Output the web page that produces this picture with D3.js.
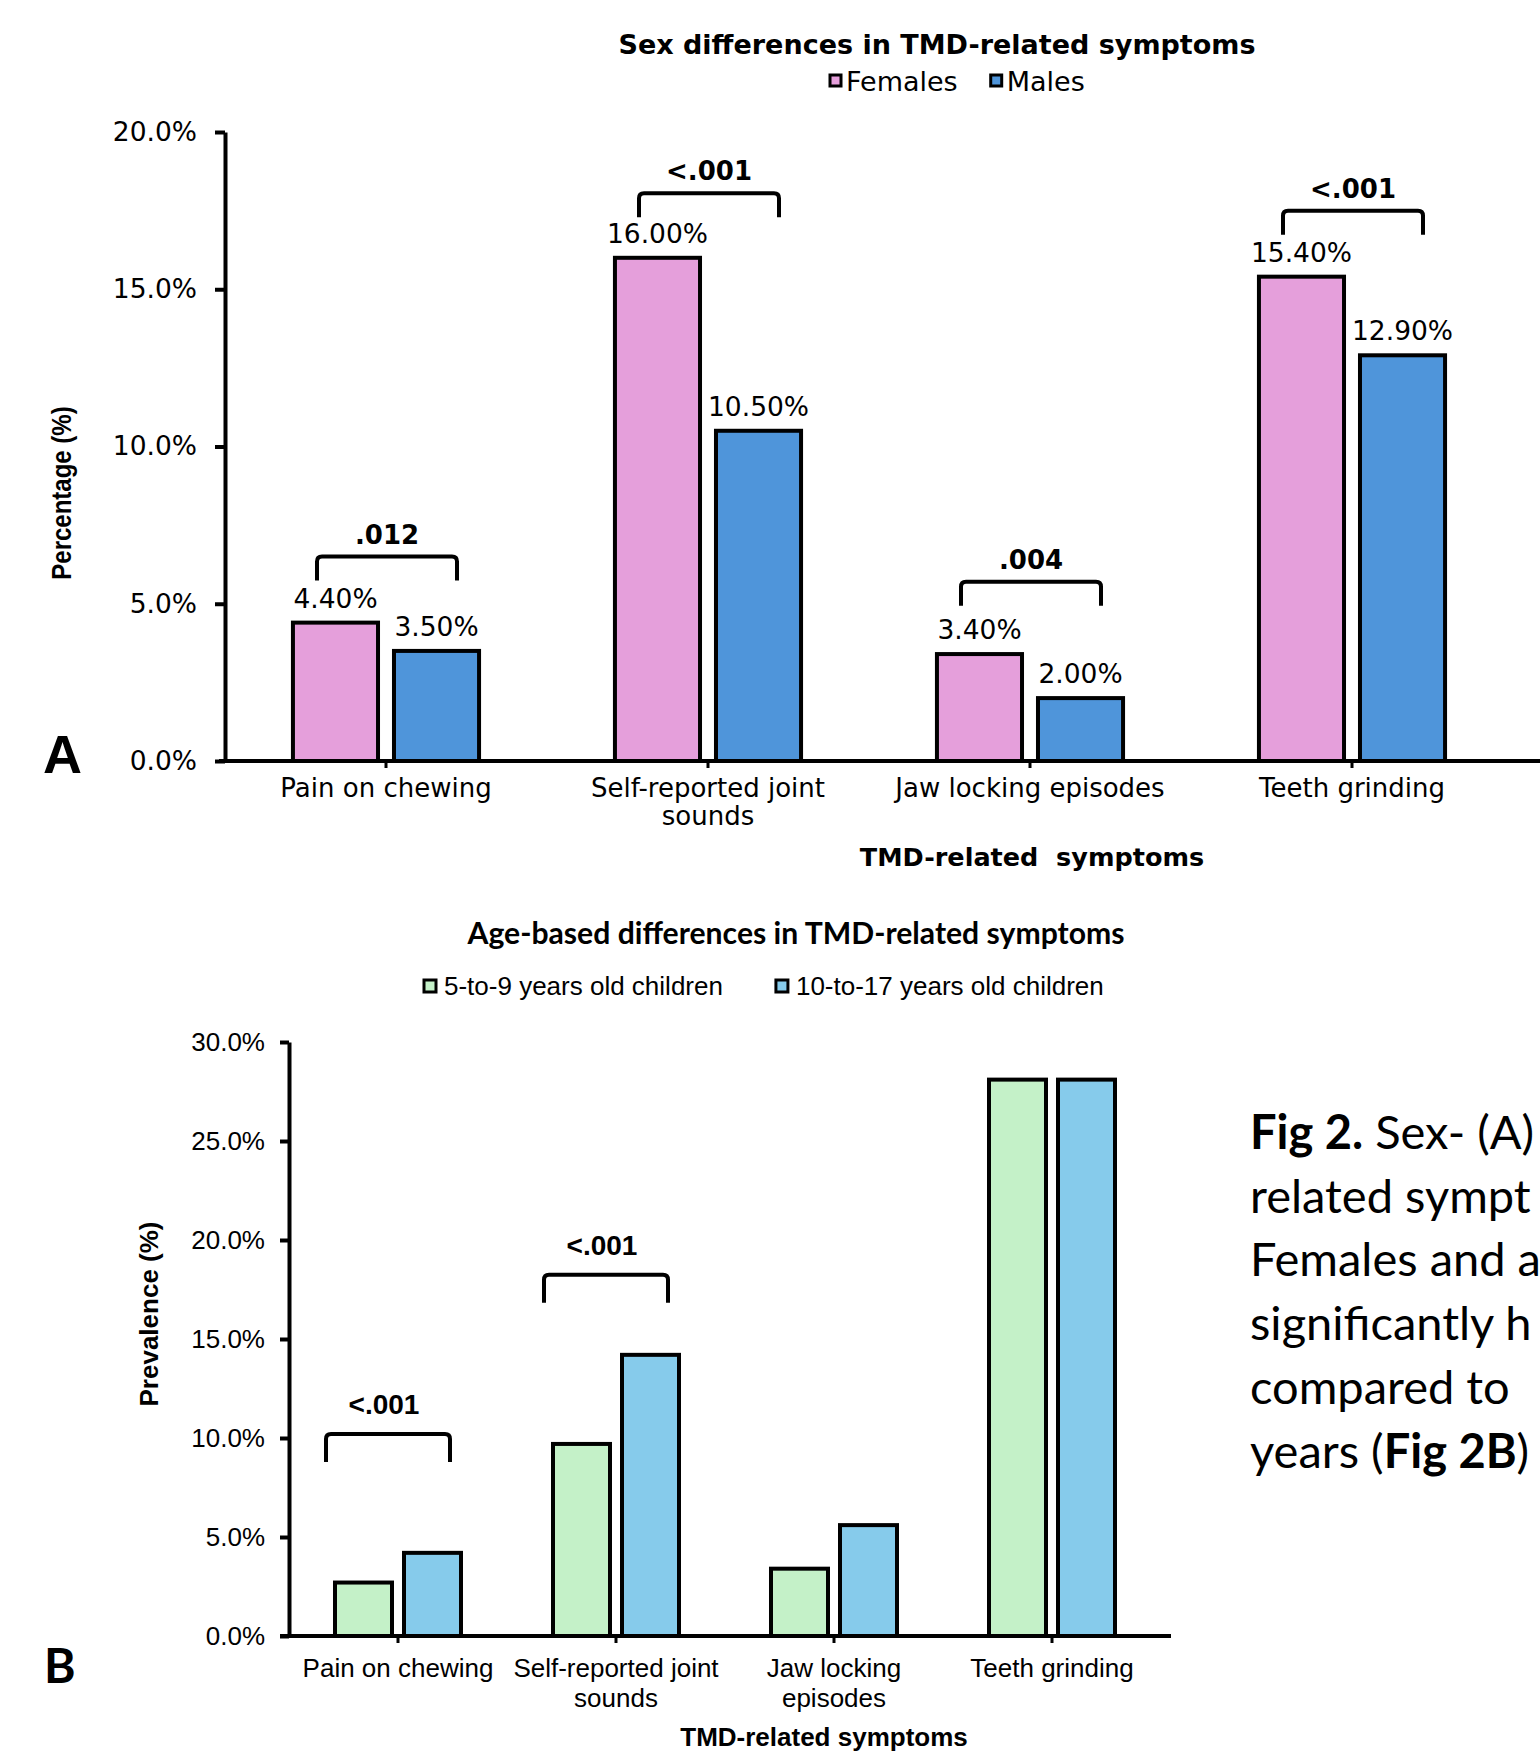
<!DOCTYPE html>
<html>
<head>
<meta charset="utf-8">
<script src="https://cdn.jsdelivr.net/npm/d3@7"></script>
<style>
  body { margin: 0; background: #fff; }
  svg { display: block; }
  text { white-space: pre; }
</style>
</head>
<body>
<svg id="fig" width="1540" height="1758"></svg>
<script>
// ---- data ----
const symptoms = ['Pain on chewing', 'Self-reported joint sounds', 'Jaw locking episodes', 'Teeth grinding'];
const tickLinesA = [['Pain on chewing'], ['Self-reported joint', 'sounds'], ['Jaw locking episodes'], ['Teeth grinding']];
const tickLinesB = [['Pain on chewing'], ['Self-reported joint', 'sounds'], ['Jaw locking', 'episodes'], ['Teeth grinding']];

const sexGroups = ['Females', 'Males'];
const femalesPct = [4.40, 16.00, 3.40, 15.40];
const malesPct = [3.50, 10.50, 2.00, 12.90];
const pValuesA = ['.012', '<.001', '.004', '<.001'];
const bracketTopA = [6.5, 18.05, 5.7, 17.5];   // in % units
const yTicksA = [0, 5, 10, 15, 20];

const ageGroups = ['5-to-9 years old children', '10-to-17 years old children'];
const age5to9Pct = [2.7, 9.7, 3.4, 28.1];
const age10to17Pct = [4.2, 14.2, 5.6, 28.1];
const pValuesB = ['<.001', '<.001', null, null];
const bracketTopB = [10.2, 18.25, null, null];
const yTicksB = [0, 5, 10, 15, 20, 25, 30];

const captionLines = [
  [['Fig 2.', true], [' Sex- (A)', false]],
  [['related sympt', false]],
  [['Females and a', false]],
  [['significantly h', false]],
  [['compared to', false]],
  [['years (', false], ['Fig 2B', true], [')', false]]
];

const W = 1540;
const svg = d3.select('#fig');
svg.append('rect').attr('width', W).attr('height', 1758).attr('fill', '#fff');

function bracket(x1, x2, yTop, leg) {
  const r = 5;
  return 'M' + x1 + ',' + (yTop + leg) + 'L' + x1 + ',' + (yTop + r) +
    'Q' + x1 + ',' + yTop + ' ' + (x1 + r) + ',' + yTop +
    'L' + (x2 - r) + ',' + yTop + 'Q' + x2 + ',' + yTop + ' ' + x2 + ',' + (yTop + r) +
    'L' + x2 + ',' + (yTop + leg);
}

// ================= Panel A =================
(function () {
  const font = 'DejaVu Sans';
  const g = svg.append('g');
  const y = d3.scaleLinear().domain([0, 20]).range([761, 132]);
  const x0 = d3.scaleBand().domain(symptoms).range([225, 1513]).paddingInner(0.422).paddingOuter(0.211);
  const x1 = d3.scaleBand().domain(sexGroups).range([0, x0.bandwidth()]).paddingInner(0.158);
  const color = d3.scaleOrdinal().domain(sexGroups).range(['#e59fdb', '#4f95da']);

  g.append('text').attr('x', 937).attr('y', 54).attr('text-anchor', 'middle')
    .attr('font-family', font).attr('font-weight', 'bold').attr('font-size', 27)
    .text('Sex differences in TMD-related symptoms');

  // legend
  let lx = 830;
  sexGroups.forEach(function (s) {
    g.append('rect').attr('x', lx).attr('y', 75).attr('width', 11).attr('height', 11)
      .attr('fill', color(s)).attr('stroke', '#000').attr('stroke-width', 3);
    const t = g.append('text').attr('x', lx + 16).attr('y', 91)
      .attr('font-family', font).attr('font-size', 27).text(s);
    lx += 16 + t.node().getComputedTextLength() + 33;
  });

  const yAxis = g.append('g').attr('transform', 'translate(225,0)')
    .call(d3.axisLeft(y).tickValues(yTicksA).tickSize(10).tickSizeOuter(0).tickPadding(18)
      .tickFormat(d => d.toFixed(1) + '%'));
  yAxis.select('.domain').attr('stroke-width', 4);
  yAxis.selectAll('.tick line').attr('stroke-width', 4);
  yAxis.selectAll('.tick text').attr('font-family', font).attr('font-size', 26.5).attr('fill', '#000');

  const rows = symptoms.map((c, i) => ({ cat: c, vals: [femalesPct[i], malesPct[i]] }));
  const grp = g.selectAll('.cat').data(rows).enter().append('g')
    .attr('transform', d => 'translate(' + x0(d.cat) + ',0)');
  grp.selectAll('rect').data(d => d.vals.map((v, j) => ({ key: sexGroups[j], v: v }))).enter()
    .append('rect')
    .attr('x', d => x1(d.key)).attr('y', d => y(d.v))
    .attr('width', x1.bandwidth()).attr('height', d => y(0) - y(d.v))
    .attr('fill', d => color(d.key)).attr('stroke', '#000').attr('stroke-width', 4);
  grp.selectAll('.val').data(d => d.vals.map((v, j) => ({ key: sexGroups[j], v: v }))).enter()
    .append('text')
    .attr('x', d => x1(d.key) + x1.bandwidth() / 2).attr('y', d => y(d.v) - 15)
    .attr('text-anchor', 'middle').attr('font-family', font).attr('font-size', 26.5)
    .text(d => d.v.toFixed(2) + '%');

  // x axis
  g.append('line').attr('x1', 219).attr('x2', W).attr('y1', y(0)).attr('y2', y(0))
    .attr('stroke', '#000').attr('stroke-width', 4);
  symptoms.forEach(function (c, i) {
    const cx = x0(c) + x0.bandwidth() / 2;
    g.append('line').attr('x1', cx).attr('x2', cx).attr('y1', y(0)).attr('y2', y(0) + 7)
      .attr('stroke', '#000').attr('stroke-width', 3);
    const t = g.append('text').attr('text-anchor', 'middle').attr('font-family', font).attr('font-size', 26);
    tickLinesA[i].forEach(function (ln, k) {
      t.append('tspan').attr('x', cx).attr('y', 797 + k * 28).text(ln);
    });
    // significance bracket
    const bx = cx + 1, half = 70, top = y(bracketTopA[i]);
    g.append('path').attr('d', bracket(bx - half, bx + half, top, 24))
      .attr('fill', 'none').attr('stroke', '#000').attr('stroke-width', 4);
    g.append('text').attr('x', bx).attr('y', top - 13).attr('text-anchor', 'middle')
      .attr('font-family', font).attr('font-weight', 'bold').attr('font-size', 26)
      .text(pValuesA[i]);
  });

  g.append('text').attr('x', 1032).attr('y', 866).attr('text-anchor', 'middle')
    .attr('font-family', font).attr('font-weight', 'bold').attr('font-size', 25.5)
    .text('TMD-related  symptoms');
  g.append('text').attr('transform', 'translate(71,493) rotate(-90) scale(1,1.15)').attr('text-anchor', 'middle')
    .attr('font-family', 'Liberation Sans').attr('font-weight', 'bold').attr('font-size', 24)
    .text('Percentage (%)');
  g.append('text').attr('x', 43).attr('y', 773)
    .attr('font-family', 'Liberation Sans').attr('font-weight', 'bold').attr('font-size', 54)
    .text('A');
})();

// ================= Panel B =================
(function () {
  const font = 'Liberation Sans';
  const g = svg.append('g');
  const y = d3.scaleLinear().domain([0, 30]).range([1636, 1042]);
  const x0 = d3.scaleBand().domain(symptoms).range([289, 1161]).paddingInner(0.422).paddingOuter(0.211);
  const x1 = d3.scaleBand().domain(ageGroups).range([0, x0.bandwidth()]).paddingInner(0.174);
  const color = d3.scaleOrdinal().domain(ageGroups).range(['#c4f1c8', '#86cbeb']);

  g.append('text').attr('x', 796).attr('y', 944).attr('text-anchor', 'middle')
    .attr('font-family', 'Lato').attr('font-weight', 'bold').attr('font-size', 30)
    .attr('textLength', 657).attr('lengthAdjust', 'spacingAndGlyphs')
    .text('Age-based differences in TMD-related symptoms');

  let lx = 424;
  ageGroups.forEach(function (s) {
    g.append('rect').attr('x', lx).attr('y', 980).attr('width', 12).attr('height', 12)
      .attr('fill', color(s)).attr('stroke', '#000').attr('stroke-width', 3);
    const t = g.append('text').attr('x', lx + 20).attr('y', 995)
      .attr('font-family', font).attr('font-size', 26).text(s);
    lx += 20 + t.node().getComputedTextLength() + 53;
  });

  const yAxis = g.append('g').attr('transform', 'translate(289,0)')
    .call(d3.axisLeft(y).tickValues(yTicksB).tickSize(9).tickSizeOuter(0).tickPadding(15)
      .tickFormat(d => d.toFixed(1) + '%'));
  yAxis.select('.domain').attr('stroke-width', 4);
  yAxis.selectAll('.tick line').attr('stroke-width', 4);
  yAxis.selectAll('.tick text').attr('font-family', font).attr('font-size', 26).attr('fill', '#000');

  const rows = symptoms.map((c, i) => ({ cat: c, vals: [age5to9Pct[i], age10to17Pct[i]] }));
  const grp = g.selectAll('.cat').data(rows).enter().append('g')
    .attr('transform', d => 'translate(' + x0(d.cat) + ',0)');
  grp.selectAll('rect').data(d => d.vals.map((v, j) => ({ key: ageGroups[j], v: v }))).enter()
    .append('rect')
    .attr('x', d => x1(d.key)).attr('y', d => y(d.v))
    .attr('width', x1.bandwidth()).attr('height', d => y(0) - y(d.v))
    .attr('fill', d => color(d.key)).attr('stroke', '#000').attr('stroke-width', 4);

  g.append('line').attr('x1', 280).attr('x2', 1171).attr('y1', y(0)).attr('y2', y(0))
    .attr('stroke', '#000').attr('stroke-width', 4);
  symptoms.forEach(function (c, i) {
    const cx = x0(c) + x0.bandwidth() / 2;
    g.append('line').attr('x1', cx).attr('x2', cx).attr('y1', y(0)).attr('y2', y(0) + 7)
      .attr('stroke', '#000').attr('stroke-width', 3);
    const t = g.append('text').attr('text-anchor', 'middle').attr('font-family', font).attr('font-size', 26);
    tickLinesB[i].forEach(function (ln, k) {
      t.append('tspan').attr('x', cx).attr('y', 1677 + k * 30).text(ln);
    });
    if (pValuesB[i]) {
      const bx = cx - 10, half = 62, top = y(bracketTopB[i]);
      g.append('path').attr('d', bracket(bx - half, bx + half, top, 28))
        .attr('fill', 'none').attr('stroke', '#000').attr('stroke-width', 4);
      g.append('text').attr('x', bx - 4).attr('y', top - 20).attr('text-anchor', 'middle')
        .attr('font-family', font).attr('font-weight', 'bold').attr('font-size', 28)
        .text(pValuesB[i]);
    }
  });

  g.append('text').attr('x', 824).attr('y', 1746).attr('text-anchor', 'middle')
    .attr('font-family', font).attr('font-weight', 'bold').attr('font-size', 26)
    .text('TMD-related symptoms');
  g.append('text').attr('transform', 'translate(158,1314) rotate(-90)').attr('text-anchor', 'middle')
    .attr('font-family', font).attr('font-weight', 'bold').attr('font-size', 26)
    .text('Prevalence (%)');
  g.append('text').attr('x', 44).attr('y', 1683)
    .attr('font-family', 'Lato').attr('font-weight', 'bold').attr('font-size', 48)
    .text('B');

  // caption (cut at the right edge, as in the figure)
  captionLines.forEach(function (parts, i) {
    const t = g.append('text').attr('x', 1250).attr('y', 1149 + i * 63.7)
      .attr('font-family', 'Lato').attr('font-size', 47);
    parts.forEach(function (p) {
      t.append('tspan').attr('font-weight', p[1] ? 'bold' : 'normal').text(p[0]);
    });
  });
})();
</script>
</body>
</html>
